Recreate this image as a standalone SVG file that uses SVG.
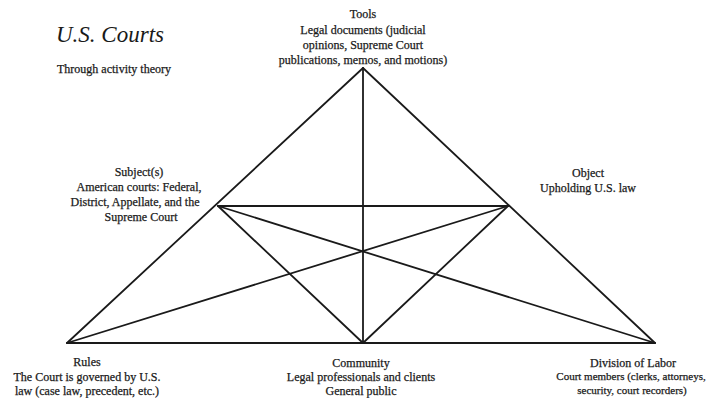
<svg xmlns="http://www.w3.org/2000/svg" width="712" height="398" viewBox="0 0 712 398">
<style>
text{font-family:"Liberation Serif","Times New Roman",serif;fill:#1a1a1a;stroke:#1a1a1a;stroke-width:0.25;}
.t{font-size:12px;text-anchor:middle;}
.s{font-size:11px;text-anchor:middle;}
.ln{stroke:#1a1a1a;stroke-width:1.8;fill:none;stroke-linecap:round;}
</style>
<rect width="712" height="398" fill="#fff"/>
<g id="connectors">
<line class="ln" x1="363" y1="68" x2="67" y2="343"/>
<line class="ln" x1="363" y1="68" x2="655" y2="343"/>
<line class="ln" x1="363" y1="68" x2="363" y2="343"/>
<line class="ln" x1="67" y1="343" x2="655" y2="343"/>
<line class="ln" x1="218" y1="206" x2="508" y2="206"/>
<line class="ln" x1="218" y1="206" x2="363" y2="343"/>
<line class="ln" x1="508" y1="206" x2="363" y2="343"/>
<line class="ln" x1="218" y1="206" x2="655" y2="343"/>
<line class="ln" x1="508" y1="206" x2="67" y2="343"/>
</g>
<g id="title">
<text x="56" y="42" style="font-size:23px;font-style:italic;stroke-width:0">U.S. Courts</text>
<text x="57" y="73" style="font-size:12px">Through activity theory</text>
</g>
<g id="tools">
<text class="t" x="363" y="18">Tools</text>
<text class="t" x="363" y="34">Legal documents (judicial</text>
<text class="t" x="363" y="49">opinions, Supreme Court</text>
<text class="t" x="363" y="64">publications, memos, and motions)</text>
</g>
<g id="subject">
<text class="t" x="139" y="176">Subject(s)</text>
<text class="t" x="139" y="191">American courts: Federal,</text>
<text class="t" x="135" y="206">District, Appellate, and the</text>
<text class="t" x="141" y="221">Supreme Court</text>
</g>
<g id="object">
<text class="t" x="588" y="177">Object</text>
<text class="t" x="588" y="192">Upholding U.S. law</text>
</g>
<g id="rules">
<text class="t" x="87" y="366">Rules</text>
<text class="t" x="87" y="381">The Court is governed by U.S.</text>
<text class="t" x="87" y="395">law (case law, precedent, etc.)</text>
</g>
<g id="community">
<text class="t" x="361" y="367">Community</text>
<text class="t" x="361" y="381">Legal professionals and clients</text>
<text class="t" x="361" y="395">General public</text>
</g>
<g id="division">
<text class="t" x="633" y="367">Division of Labor</text>
<text class="s" x="631" y="380">Court members (clerks, attorneys,</text>
<text class="s" x="632" y="394">security, court recorders)</text>
</g>
</svg>
